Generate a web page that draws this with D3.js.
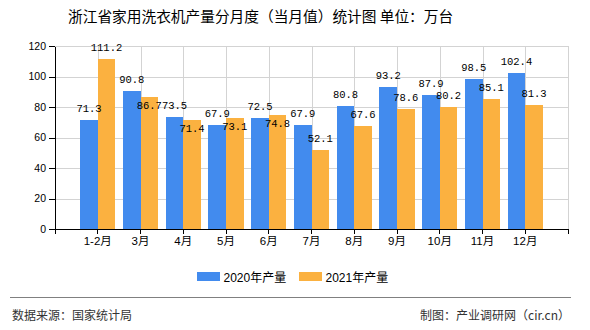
<!DOCTYPE html>
<html><head><meta charset="utf-8">
<script src="https://cdn.jsdelivr.net/npm/d3@7/dist/d3.min.js"></script>
<style>body{margin:0;background:#fff}svg{display:block}</style>
</head><body>
<script>
const categories = ["1-2月","3月","4月","5月","6月","7月","8月","9月","10月","11月","12月"];
const values2020 = [71.3,90.8,73.5,67.9,72.5,67.9,80.8,93.2,87.9,98.5,102.4];
const values2021 = [111.2,86.7,71.4,73.1,74.8,52.1,67.6,78.6,80.2,85.1,81.3];
const seriesNames = ["2020年产量","2021年产量"];
const yTicks = [0,20,40,60,80,100,120];
const colors = ["#428BEE","#FBB140"];
const title = "浙江省家用洗衣机产量分月度（当月值）统计图 单位：万台";
const sourceText = "数据来源：国家统计局";
const makerText = "制图：产业调研网（cir.cn）";

const W = 590, H = 330;
const margin = {left:55, right:22, top:46, bottom:101};
const svg = d3.select("body").append("svg").attr("width", W).attr("height", H);
const cjk = "'Liberation Sans','Noto Sans CJK SC',sans-serif";

const x = d3.scaleBand().domain(categories).range([margin.left, W - margin.right]).paddingInner(0).paddingOuter(0.5);
const x1 = d3.scaleBand().domain([0,1]).range([0, x.bandwidth()]).paddingInner(0).paddingOuter(0.22);
const y = d3.scaleLinear().domain([0,120]).range([H - margin.bottom, margin.top]);

// title
svg.append("text").attr("x", 68).attr("y", 22).attr("font-family", "'Noto Sans CJK SC',sans-serif")
  .attr("font-size", 14.7).attr("fill", "#000").text(title);

// grid
const grid = svg.append("g").attr("stroke", "#d3d3d3").attr("stroke-width", 1).attr("shape-rendering", "crispEdges");
grid.selectAll(".h").data(yTicks.filter(d => d > 0)).join("line")
  .attr("x1", margin.left).attr("x2", W - margin.right)
  .attr("y1", d => Math.round(y(d)) + 0.5).attr("y2", d => Math.round(y(d)) + 0.5);
grid.selectAll(".v").data(categories).join("line")
  .attr("x1", d => Math.round(x(d) + x.bandwidth()/2) + 0.5).attr("x2", d => Math.round(x(d) + x.bandwidth()/2) + 0.5)
  .attr("y1", y(120)).attr("y2", y(0));
grid.append("line").attr("x1", W - margin.right + 0.5).attr("x2", W - margin.right + 0.5)
  .attr("y1", y(120)).attr("y2", y(0));

// bars
const series = [values2020, values2021];
const barG = svg.append("g").attr("shape-rendering", "crispEdges");
series.forEach((vals, si) => {
  barG.selectAll(".s" + si).data(vals).join("rect")
    .attr("x", (d, i) => x(categories[i]) + x1(si))
    .attr("width", x1.bandwidth())
    .attr("y", d => y(d))
    .attr("height", d => y(0) - y(d))
    .attr("fill", colors[si]);
});

// axes
const yAxis = svg.append("g").attr("transform", `translate(${margin.left},0)`)
  .call(d3.axisLeft(y).tickValues(yTicks).tickSize(6).tickPadding(3).tickSizeOuter(0));
yAxis.selectAll("text").attr("font-family", "'Liberation Sans',Arial,sans-serif").attr("font-size", 10.5).attr("fill", "#000");
const xAxis = svg.append("g").attr("transform", `translate(0,${y(0)})`)
  .call(d3.axisBottom(x).tickSize(5).tickSizeOuter(5).tickPadding(3));
xAxis.selectAll("text").attr("font-family", cjk).attr("font-size", 11.5).attr("fill", "#000");
svg.selectAll(".domain, .tick line").attr("stroke", "#000").attr("shape-rendering", "crispEdges");

// value labels
const lbl = svg.append("g").attr("font-family", "'Liberation Mono','DejaVu Sans Mono',monospace")
  .attr("font-size", 10.5).attr("fill", "#000").attr("text-anchor", "middle");
categories.forEach((c, i) => {
  const y0 = y(values2020[i]) - 8;
  let y1 = y(values2021[i]) - 8;
  if (Math.abs(y1 - y0) < 10) y1 = y(values2021[i]) + 12;
  lbl.append("text").attr("x", x(c) + x1(0) + x1.bandwidth()/2).attr("y", y0).text(values2020[i]);
  lbl.append("text").attr("x", x(c) + x1(1) + x1.bandwidth()/2).attr("y", y1).text(values2021[i]);
});

// legend
const legX = [197, 299];
seriesNames.forEach((n, i) => {
  const g = svg.append("g").attr("transform", `translate(${legX[i]},272)`);
  g.append("rect").attr("width", 23).attr("height", 9).attr("fill", colors[i]);
  g.append("text").attr("x", 26.5).attr("y", 9.5).attr("font-family", cjk).attr("font-size", 12).attr("fill", "#000").text(n);
});

// footer
svg.append("line").attr("x1", 10).attr("x2", 571).attr("y1", 297.5).attr("y2", 297.5).attr("stroke", "#808080");
svg.append("text").attr("x", 12).attr("y", 320).attr("font-family", "'Noto Sans CJK SC',sans-serif").attr("font-size", 12).attr("fill", "#333").text(sourceText);
svg.append("text").attr("x", 570).attr("y", 320).attr("text-anchor", "end").attr("font-family", "'Noto Sans CJK SC',sans-serif").attr("font-size", 12).attr("fill", "#333").text(makerText);
</script>
</body></html>
